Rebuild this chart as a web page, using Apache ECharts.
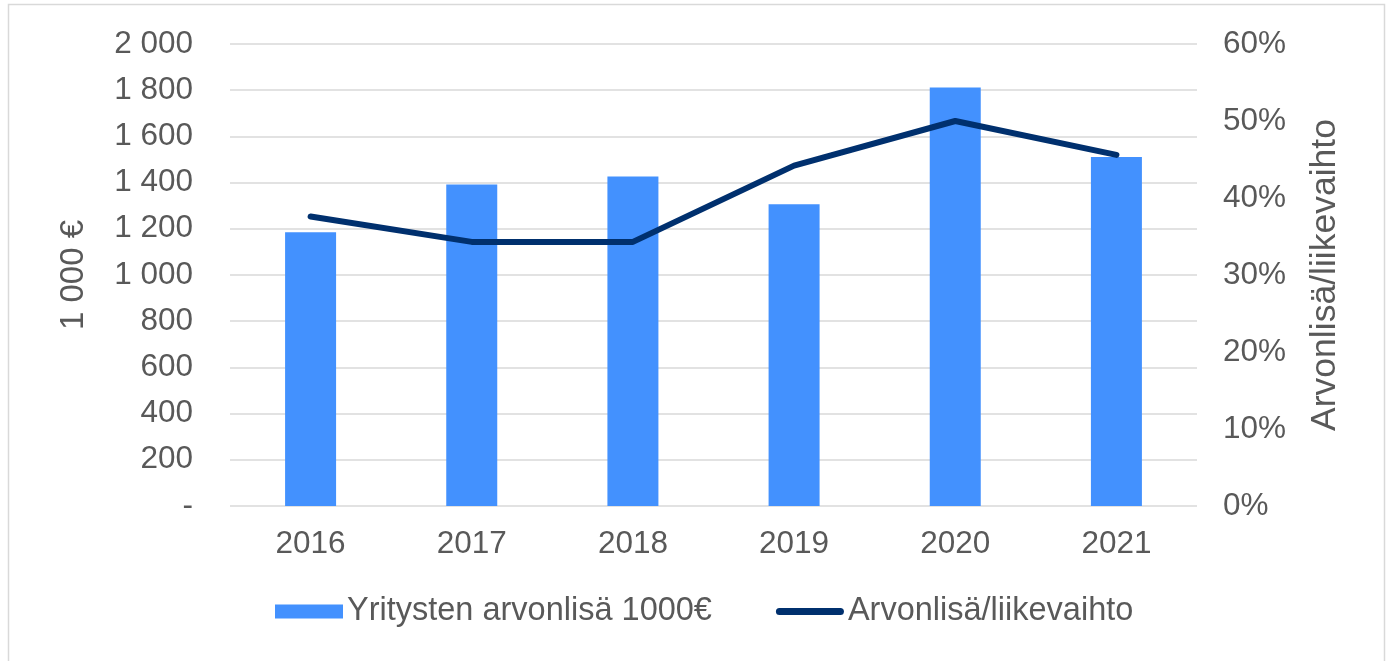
<!DOCTYPE html>
<html>
<head>
<meta charset="utf-8">
<script src="https://cdn.jsdelivr.net/npm/echarts@6/dist/echarts.min.js"></script>
<style>
  html, body { margin: 0; padding: 0; background: #fff; }
  #chart { width: 1389px; height: 661px; }
</style>
</head>
<body>
<div id="chart"></div>
<script>
const years = ['2016', '2017', '2018', '2019', '2020', '2021']
const valueAdded = [1185, 1392, 1426, 1306, 1812, 1511]
const ratioPct = [37.6, 34.3, 34.3, 44.2, 50.0, 45.6]

const FONT = '"Liberation Sans", Arial, sans-serif'
const TEXT = '#595959'

function fmtThousands(v) {
  if (v === 0) return '-'
  return String(v).replace(/\B(?=(\d{3})+(?!\d))/g, ' ')
}

const chart = echarts.init(document.getElementById('chart'), null, { renderer: 'canvas' })

chart.setOption({
  backgroundColor: '#fff',
  animation: false,
  textStyle: { fontFamily: FONT },
  graphic: [{
    type: 'rect',
    shape: { x: 8.5, y: 4.5, width: 1376, height: 680 },
    style: { fill: 'none', stroke: '#d9d9d9', lineWidth: 1.5 },
    silent: true,
  }],
  grid: { left: 230, right: 192, top: 44, bottom: 155 },
  legend: {
    bottom: 28,
    left: 270,
    itemWidth: 68,
    itemHeight: 14,
    itemGap: 64,
    textStyle: { color: TEXT, fontSize: 32.5, fontFamily: FONT, padding: [0, 0, 0, -1] },
    data: [
      { name: 'Yritysten arvonlisä 1000€', icon: 'rect' },
      { name: 'Arvonlisä/liikevaihto', icon: 'path://M3.5,0 H64.5 A3.5,3.5 0 0 1 64.5,7 H3.5 A3.5,3.5 0 0 1 3.5,0 Z' },
    ],
  },
  xAxis: {
    type: 'category',
    data: years,
    axisLine: { show: false },
    axisTick: { show: false },
    axisLabel: { color: TEXT, fontSize: 31.5, margin: 22, fontFamily: FONT },
  },
  yAxis: [
    {
      type: 'value',
      min: 0,
      max: 2000,
      interval: 200,
      name: '1 000 €',
      nameLocation: 'middle',
      nameRotate: 90,
      nameGap: 140,
      nameTextStyle: { color: TEXT, fontSize: 33, fontFamily: FONT },
      axisLine: { show: false },
      axisTick: { show: false },
      axisLabel: { color: TEXT, fontSize: 31.5, margin: 37, fontFamily: FONT, formatter: fmtThousands },
      splitLine: { lineStyle: { color: '#d9d9d9', width: 1.5 } },
    },
    {
      type: 'value',
      min: 0,
      max: 60,
      interval: 10,
      name: 'Arvonlisä/liikevaihto',
      nameLocation: 'middle',
      nameRotate: 90,
      nameGap: 110,
      nameTextStyle: { color: TEXT, fontSize: 35.5, fontFamily: FONT },
      axisLine: { show: false },
      axisTick: { show: false },
      axisLabel: { color: TEXT, fontSize: 31.5, margin: 26, fontFamily: FONT, formatter: (v) => v + '%' },
      splitLine: { show: false },
    },
  ],
  series: [
    {
      name: 'Yritysten arvonlisä 1000€',
      type: 'bar',
      data: valueAdded,
      barWidth: 51,
      itemStyle: { color: '#4391fe' },
    },
    {
      name: 'Arvonlisä/liikevaihto',
      type: 'line',
      yAxisIndex: 1,
      data: ratioPct,
      symbol: 'none',
      lineStyle: { color: '#00306e', width: 6, cap: 'round', join: 'round' },
      itemStyle: { color: '#00306e' },
    },
  ],
})
</script>
</body>
</html>
